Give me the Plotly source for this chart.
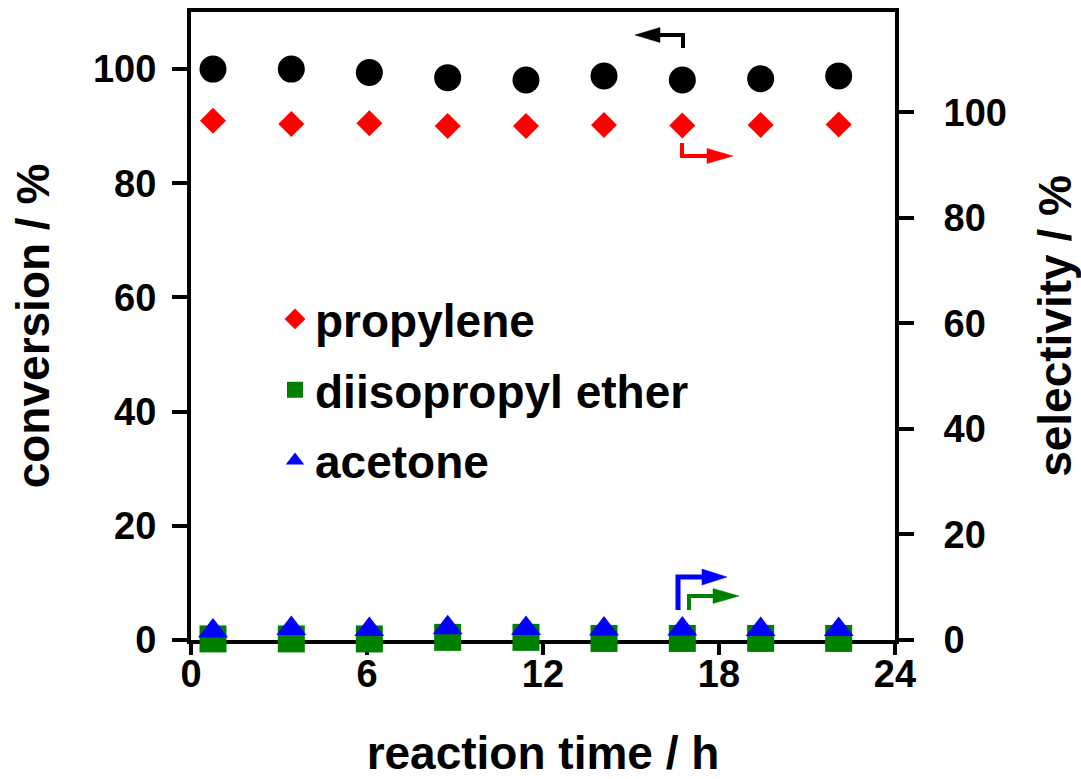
import plotly.graph_objects as go

# ---- data ----
time_h = [0.75, 3.42, 6.08, 8.75, 11.42, 14.08, 16.75, 19.42, 22.08]
conversion = [100.0, 100.0, 99.4, 98.5, 98.1, 98.8, 98.1, 98.3, 98.8]
sel_propylene = [98.4, 97.8, 97.9, 97.4, 97.4, 97.6, 97.5, 97.6, 97.7]
sel_dipe = [0.2, 0.2, 0.2, 0.5, 0.5, 0.3, 0.3, 0.3, 0.3]
sel_acetone = [1.7, 2.2, 2.0, 2.3, 2.2, 2.1, 2.1, 2.0, 2.0]
x_ticks = [0, 6, 12, 18, 24]
y_ticks = [0, 20, 40, 60, 80, 100]

FONT = "Liberation Sans, Arial, sans-serif"
W, H = 1081, 779
L, R, T, B = 191, 186, 12, 139


def P(px, py):
    """pixel -> paper coordinates (for the annotation arrows only)"""
    return (px - L) / (W - L - R), (H - B - py) / (H - T - B)


fig = go.Figure()
fig.add_trace(go.Scatter(x=time_h, y=conversion, mode="markers", name="conversion",
                         marker=dict(symbol="circle", size=27, color="black"),
                         showlegend=False, cliponaxis=False))
fig.add_trace(go.Scatter(x=time_h, y=sel_propylene, mode="markers", name="propylene",
                         marker=dict(symbol="diamond", size=20, color="#FF0000"),
                         yaxis="y2", legendgroup="a", cliponaxis=False))
fig.add_trace(go.Scatter(x=time_h, y=sel_dipe, mode="markers", name="diisopropyl ether",
                         marker=dict(symbol="square", size=27, color="#008000"),
                         yaxis="y2", legendgroup="b", cliponaxis=False))
fig.add_trace(go.Scatter(x=time_h, y=sel_acetone, mode="markers", name="acetone",
                         marker=dict(symbol="triangle-up", size=26, color="#0000FF"),
                         yaxis="y2", legendgroup="c", cliponaxis=False))

tickfont = dict(family=FONT, size=38, color="black", weight="bold")
titlefont = dict(family=FONT, size=46, color="black", weight="bold")

shapes = []


def bent_arrow(pts, head_base, head_tip, half, color, width):
    path = "M " + " L ".join("%f,%f" % P(*p) for p in pts)
    shapes.append(dict(type="path", path=path, xref="paper", yref="paper",
                       line=dict(color=color, width=width)))
    bx, by = head_base
    tx, ty = head_tip
    if by == ty:
        corners = [(bx, by - half), (tx, ty), (bx, by + half)]
    else:
        corners = [(bx - half, by), (tx, ty), (bx + half, by)]
    hp = "M " + " L ".join("%f,%f" % P(*p) for p in corners) + " Z"
    shapes.append(dict(type="path", path=hp, xref="paper", yref="paper",
                       fillcolor=color, line=dict(color=color, width=0.5)))


bent_arrow([(683, 48), (683, 35), (660, 35)], (660, 35), (635, 35), 7.5, "black", 4)
bent_arrow([(682, 143), (682, 156), (708, 156)], (707, 156), (733, 156), 7.5, "#FF0000", 4)
bent_arrow([(678, 610), (678, 577), (703, 577)], (702, 577), (727, 577), 8, "#0000FF", 5)
bent_arrow([(689, 610), (689, 596), (714, 596)], (713, 596), (739, 596), 7.5, "#008000", 4)

fig.update_layout(
    width=W, height=H,
    margin=dict(l=L, r=R, t=T, b=B),
    paper_bgcolor="white", plot_bgcolor="white",
    showlegend=True,
    legend=dict(x=P(275, 0)[0], y=P(0, 390)[1], xanchor="left", yanchor="middle",
                font=dict(family=FONT, size=46, color="black", weight="bold"),
                bgcolor="rgba(0,0,0,0)", tracegroupgap=8, traceorder="grouped",
                itemsizing="trace"),
    xaxis=dict(range=[0, 24], tickvals=x_ticks, showgrid=False, zeroline=False,
               showline=True, linecolor="black", linewidth=4, mirror=True,
               ticks="outside", ticklen=11, tickwidth=4, tickcolor="black",
               tickfont=tickfont, layer="below traces", automargin=False,
               ticklabelstandoff=-14,
               title=dict(text="\u00a0\u00a0\u00a0reaction time / h", font=titlefont,
                          standoff=60)),
    yaxis=dict(range=[0, 110], tickvals=y_ticks, showgrid=False, zeroline=False,
               showline=True, linecolor="black", linewidth=4,
               ticks="outside", ticklen=15, tickwidth=4, tickcolor="black",
               tickfont=tickfont, layer="below traces", ticklabelstandoff=8,
               automargin=False,
               title=dict(text="conversion / %", font=titlefont, standoff=30)),
    yaxis2=dict(range=[0, 119], tickvals=y_ticks, overlaying="y", side="right",
                showgrid=False, zeroline=False,
                showline=True, linecolor="black", linewidth=4,
                ticks="outside", ticklen=15, tickwidth=4, tickcolor="black",
                tickfont=tickfont, layer="below traces", ticklabelstandoff=22,
                automargin=False,
                title=dict(text="selectivity / %", font=titlefont, standoff=37)),
    shapes=shapes,
)

fig.write_html("out.html")
